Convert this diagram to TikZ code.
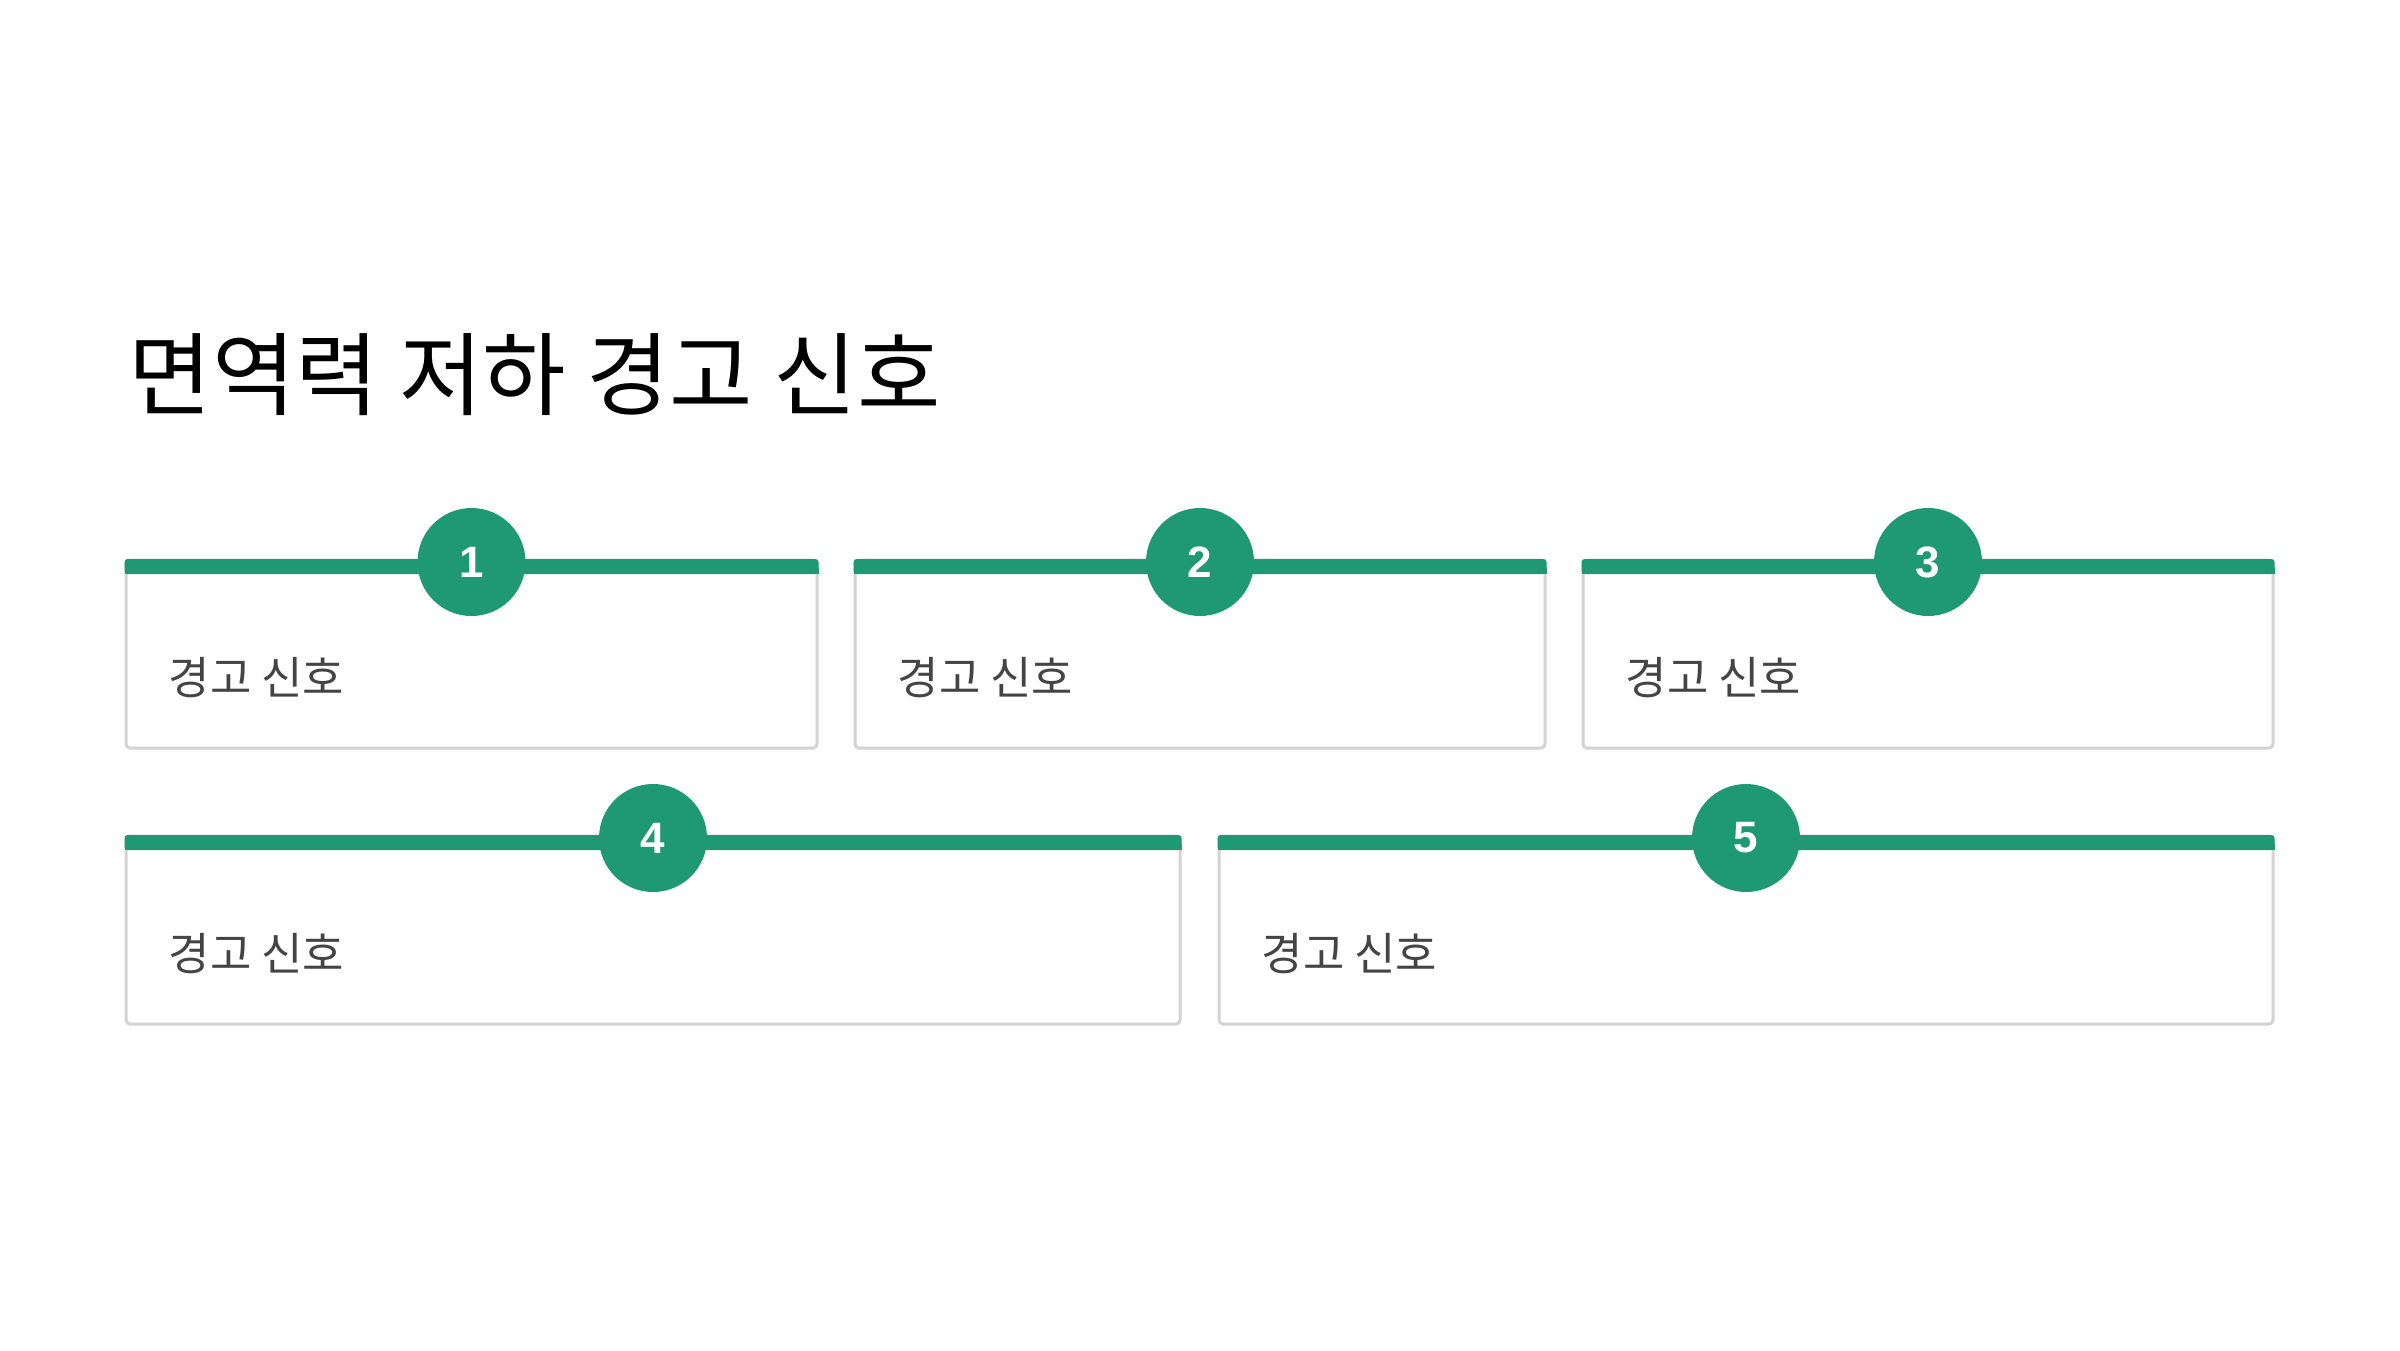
\documentclass[tikz,border=0pt]{standalone}
\usepackage{fontspec}
\newfontfamily\kr{Noto Sans CJK KR}
\newfontfamily\numfont{Liberation Sans}
\definecolor{accent}{RGB}{31,153,114}
\definecolor{cardline}{RGB}{212,210,210}
\definecolor{cardtext}{RGB}{68,68,68}
\tikzset{
  cardbox/.style={draw=cardline, line width=0.3mm, fill=white, rounded corners=0.4mm},
  cardbar/.style={fill=accent, rounded corners=0.3mm},
  badge/.style={circle, fill=accent, minimum size=10.8mm, inner sep=0pt, text=white, font=\numfont\bfseries\fontsize{12.5pt}{14pt}\selectfont},
  cardlabel/.style={anchor=west, inner sep=0pt, text=cardtext, font=\kr\fontsize{12.8pt}{15pt}\selectfont},
  titlestyle/.style={anchor=base west, inner sep=0pt, text=black, font=\kr\fontsize{25.8pt}{30pt}\selectfont}
}
\begin{document}
\begin{tikzpicture}[x=0.1mm,y=-0.1mm]
\useasboundingbox (0,0) rectangle (2400,1350);
\fill[white] (0,0) rectangle (2400,1350);
\node[titlestyle] (title) at (128,408) {면역력 저하 경고 신호};
% cards: left, right, top, bottom, number
\foreach \l/\r/\t/\b/\n in {126/817/560/748/1, 855/1545/560/748/2, 1583/2273/560/748/3, 126/1180/836/1024/4, 1219/2273/836/1024/5}{
  \path[cardbox] (\l,\t) rectangle (\r,\b);
  \path[cardbar] (\l-1.5,\t-1) rectangle (\r+1.5,\t+14);
  \fill[accent] (\l-1.5,\t+8) rectangle (\r+1.5,\t+14);
  \node[badge] (badge\n) at ({(\l+\r)/2},\t+2) {\n};
  \node[cardlabel] (label\n) at (\l+42,\t+118) {경고 신호};
}
\end{tikzpicture}
\end{document}
